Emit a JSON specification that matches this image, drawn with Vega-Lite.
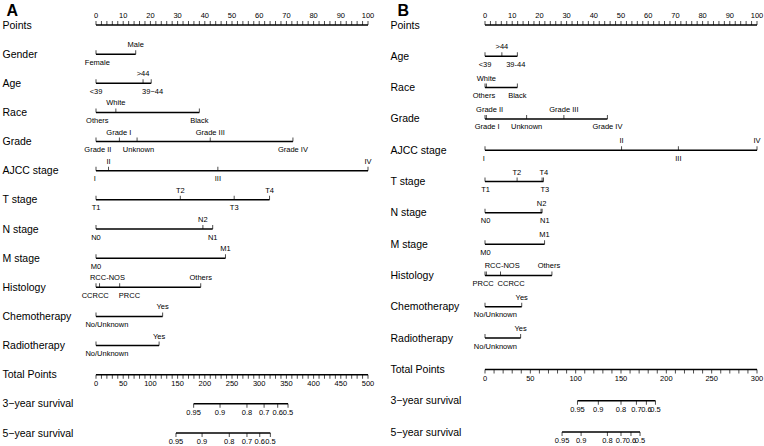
{
  "$schema": "https://vega.github.io/schema/vega-lite/v6.json",
  "padding": {"left": 2, "top": 2, "right": 0, "bottom": 0},
  "spacing": 117,
  "bounds": "flush",
  "config": {"view": {"stroke": null}, "font": "Liberation Sans", "text": {"fill": "#000"}},
  "datasets": {
    "A_pts": [
      {"var":"Points","pts":0,"lab":0,"label":"0","side":"above"},{"var":"Points","pts":2},{"var":"Points","pts":4},{"var":"Points","pts":6},{"var":"Points","pts":8},
      {"var":"Points","pts":10,"lab":10,"label":"10","side":"above"},{"var":"Points","pts":12},{"var":"Points","pts":14},{"var":"Points","pts":16},{"var":"Points","pts":18},
      {"var":"Points","pts":20,"lab":20,"label":"20","side":"above"},{"var":"Points","pts":22},{"var":"Points","pts":24},{"var":"Points","pts":26},{"var":"Points","pts":28},
      {"var":"Points","pts":30,"lab":30,"label":"30","side":"above"},{"var":"Points","pts":32},{"var":"Points","pts":34},{"var":"Points","pts":36},{"var":"Points","pts":38},
      {"var":"Points","pts":40,"lab":40,"label":"40","side":"above"},{"var":"Points","pts":42},{"var":"Points","pts":44},{"var":"Points","pts":46},{"var":"Points","pts":48},
      {"var":"Points","pts":50,"lab":50,"label":"50","side":"above"},{"var":"Points","pts":52},{"var":"Points","pts":54},{"var":"Points","pts":56},{"var":"Points","pts":58},
      {"var":"Points","pts":60,"lab":60,"label":"60","side":"above"},{"var":"Points","pts":62},{"var":"Points","pts":64},{"var":"Points","pts":66},{"var":"Points","pts":68},
      {"var":"Points","pts":70,"lab":70,"label":"70","side":"above"},{"var":"Points","pts":72},{"var":"Points","pts":74},{"var":"Points","pts":76},{"var":"Points","pts":78},
      {"var":"Points","pts":80,"lab":80,"label":"80","side":"above"},{"var":"Points","pts":82},{"var":"Points","pts":84},{"var":"Points","pts":86},{"var":"Points","pts":88},
      {"var":"Points","pts":90,"lab":90,"label":"90","side":"above"},{"var":"Points","pts":92},{"var":"Points","pts":94},{"var":"Points","pts":96},{"var":"Points","pts":98},
      {"var":"Points","pts":100,"lab":100,"label":"100","side":"above"},
      {"var":"Gender","label":"Female","pts":0,"lab":0.5,"side":"below"},
      {"var":"Gender","label":"Male","pts":14.6,"lab":14.6,"side":"above"},
      {"var":"Age","label":"<39","pts":0,"lab":0,"side":"below"},
      {"var":"Age","label":">44","pts":17.3,"lab":17.3,"side":"above"},
      {"var":"Age","label":"39−44","pts":20.3,"lab":20.8,"side":"below"},
      {"var":"Race","label":"Others","pts":0,"lab":0.5,"side":"below"},
      {"var":"Race","label":"White","pts":7.3,"lab":7.3,"side":"above"},
      {"var":"Race","label":"Black","pts":38,"lab":38,"side":"below"},
      {"var":"Grade","label":"Grade II","pts":0,"lab":0.7,"side":"below"},
      {"var":"Grade","label":"Grade I","pts":8.6,"lab":8.4,"side":"above"},
      {"var":"Grade","label":"Unknown","pts":15.1,"lab":15.6,"side":"below"},
      {"var":"Grade","label":"Grade III","pts":42,"lab":42,"side":"above"},
      {"var":"Grade","label":"Grade IV","pts":72.4,"lab":72.4,"side":"below"},
      {"var":"AJCC stage","label":"I","pts":0,"lab":-0.4,"side":"below"},
      {"var":"AJCC stage","label":"II","pts":4.6,"lab":4.6,"side":"above"},
      {"var":"AJCC stage","label":"III","pts":44.8,"lab":44.8,"side":"below"},
      {"var":"AJCC stage","label":"IV","pts":100,"lab":100,"side":"above"},
      {"var":"T stage","label":"T1","pts":0,"lab":0,"side":"below"},
      {"var":"T stage","label":"T2","pts":31,"lab":31,"side":"above"},
      {"var":"T stage","label":"T3","pts":50.8,"lab":50.8,"side":"below"},
      {"var":"T stage","label":"T4","pts":63.8,"lab":63.8,"side":"above"},
      {"var":"N stage","label":"N0","pts":0,"lab":0,"side":"below"},
      {"var":"N stage","label":"N2","pts":39.3,"lab":39.3,"side":"above"},
      {"var":"N stage","label":"N1","pts":42.9,"lab":42.9,"side":"below"},
      {"var":"M stage","label":"M0","pts":0,"lab":0,"side":"below"},
      {"var":"M stage","label":"M1","pts":47.6,"lab":47.6,"side":"above"},
      {"var":"Histology","label":"CCRCC","pts":0,"lab":-0.3,"side":"below"},
      {"var":"Histology","label":"RCC-NOS","pts":1.3,"lab":4.2,"side":"above"},
      {"var":"Histology","label":"PRCC","pts":8.7,"lab":12.3,"side":"below"},
      {"var":"Histology","label":"Others","pts":38.5,"lab":38.5,"side":"above"},
      {"var":"Chemotherapy","label":"No/Unknown","pts":0,"lab":4,"side":"below"},
      {"var":"Chemotherapy","label":"Yes","pts":24.5,"lab":24.5,"side":"above"},
      {"var":"Radiotherapy","label":"No/Unknown","pts":0,"lab":4,"side":"below"},
      {"var":"Radiotherapy","label":"Yes","pts":23.2,"lab":23.2,"side":"above"}
    ],
    "A_tot": [
      {"var":"Total Points","tp":0,"label":"0","side":"below"},{"var":"Total Points","tp":10},{"var":"Total Points","tp":20},{"var":"Total Points","tp":30},{"var":"Total Points","tp":40},
      {"var":"Total Points","tp":50,"label":"50","side":"below"},{"var":"Total Points","tp":60},{"var":"Total Points","tp":70},{"var":"Total Points","tp":80},{"var":"Total Points","tp":90},
      {"var":"Total Points","tp":100,"label":"100","side":"below"},{"var":"Total Points","tp":110},{"var":"Total Points","tp":120},{"var":"Total Points","tp":130},{"var":"Total Points","tp":140},
      {"var":"Total Points","tp":150,"label":"150","side":"below"},{"var":"Total Points","tp":160},{"var":"Total Points","tp":170},{"var":"Total Points","tp":180},{"var":"Total Points","tp":190},
      {"var":"Total Points","tp":200,"label":"200","side":"below"},{"var":"Total Points","tp":210},{"var":"Total Points","tp":220},{"var":"Total Points","tp":230},{"var":"Total Points","tp":240},
      {"var":"Total Points","tp":250,"label":"250","side":"below"},{"var":"Total Points","tp":260},{"var":"Total Points","tp":270},{"var":"Total Points","tp":280},{"var":"Total Points","tp":290},
      {"var":"Total Points","tp":300,"label":"300","side":"below"},{"var":"Total Points","tp":310},{"var":"Total Points","tp":320},{"var":"Total Points","tp":330},{"var":"Total Points","tp":340},
      {"var":"Total Points","tp":350,"label":"350","side":"below"},{"var":"Total Points","tp":360},{"var":"Total Points","tp":370},{"var":"Total Points","tp":380},{"var":"Total Points","tp":390},
      {"var":"Total Points","tp":400,"label":"400","side":"below"},{"var":"Total Points","tp":410},{"var":"Total Points","tp":420},{"var":"Total Points","tp":430},{"var":"Total Points","tp":440},
      {"var":"Total Points","tp":450,"label":"450","side":"below"},{"var":"Total Points","tp":460},{"var":"Total Points","tp":470},{"var":"Total Points","tp":480},{"var":"Total Points","tp":490},
      {"var":"Total Points","tp":500,"label":"500","side":"below"},
      {"var":"3−year survival","tp":179.5,"label":"0.95","side":"surv"},
      {"var":"3−year survival","tp":228,"label":"0.9","side":"surv"},
      {"var":"3−year survival","tp":277.5,"label":"0.8","side":"surv"},
      {"var":"3−year survival","tp":309,"label":"0.7","side":"surv"},
      {"var":"3−year survival","tp":334,"label":"0.6","side":"surv"},
      {"var":"3−year survival","tp":353,"label":"0.5","side":"surv"},
      {"var":"5−year survival","tp":147,"label":"0.95","side":"surv"},
      {"var":"5−year survival","tp":195,"label":"0.9","side":"surv"},
      {"var":"5−year survival","tp":245,"label":"0.8","side":"surv"},
      {"var":"5−year survival","tp":277.5,"label":"0.7","side":"surv"},
      {"var":"5−year survival","tp":301,"label":"0.6","side":"surv"},
      {"var":"5−year survival","tp":320.5,"label":"0.5","side":"surv"}
    ],
    "B_pts": [
      {"var":"Points","pts":0,"lab":0,"label":"0","side":"above"},{"var":"Points","pts":2},{"var":"Points","pts":4},{"var":"Points","pts":6},{"var":"Points","pts":8},
      {"var":"Points","pts":10,"lab":10,"label":"10","side":"above"},{"var":"Points","pts":12},{"var":"Points","pts":14},{"var":"Points","pts":16},{"var":"Points","pts":18},
      {"var":"Points","pts":20,"lab":20,"label":"20","side":"above"},{"var":"Points","pts":22},{"var":"Points","pts":24},{"var":"Points","pts":26},{"var":"Points","pts":28},
      {"var":"Points","pts":30,"lab":30,"label":"30","side":"above"},{"var":"Points","pts":32},{"var":"Points","pts":34},{"var":"Points","pts":36},{"var":"Points","pts":38},
      {"var":"Points","pts":40,"lab":40,"label":"40","side":"above"},{"var":"Points","pts":42},{"var":"Points","pts":44},{"var":"Points","pts":46},{"var":"Points","pts":48},
      {"var":"Points","pts":50,"lab":50,"label":"50","side":"above"},{"var":"Points","pts":52},{"var":"Points","pts":54},{"var":"Points","pts":56},{"var":"Points","pts":58},
      {"var":"Points","pts":60,"lab":60,"label":"60","side":"above"},{"var":"Points","pts":62},{"var":"Points","pts":64},{"var":"Points","pts":66},{"var":"Points","pts":68},
      {"var":"Points","pts":70,"lab":70,"label":"70","side":"above"},{"var":"Points","pts":72},{"var":"Points","pts":74},{"var":"Points","pts":76},{"var":"Points","pts":78},
      {"var":"Points","pts":80,"lab":80,"label":"80","side":"above"},{"var":"Points","pts":82},{"var":"Points","pts":84},{"var":"Points","pts":86},{"var":"Points","pts":88},
      {"var":"Points","pts":90,"lab":90,"label":"90","side":"above"},{"var":"Points","pts":92},{"var":"Points","pts":94},{"var":"Points","pts":96},{"var":"Points","pts":98},
      {"var":"Points","pts":100,"lab":100,"label":"100","side":"above"},
      {"var":"Age","label":"<39","pts":0,"lab":0,"side":"below"},
      {"var":"Age","label":">44","pts":6.2,"lab":6.2,"side":"above"},
      {"var":"Age","label":"39-44","pts":11.9,"lab":11.3,"side":"below"},
      {"var":"Race","label":"Others","pts":0,"lab":-0.4,"side":"below"},
      {"var":"Race","label":"White","pts":0.5,"lab":0.5,"side":"above"},
      {"var":"Race","label":"Black","pts":11.9,"lab":11.9,"side":"below"},
      {"var":"Grade","label":"Grade I","pts":0,"lab":0.8,"side":"below"},
      {"var":"Grade","label":"Grade II","pts":0.5,"lab":1.7,"side":"above"},
      {"var":"Grade","label":"Unknown","pts":15.3,"lab":15.3,"side":"below"},
      {"var":"Grade","label":"Grade III","pts":29,"lab":29,"side":"above"},
      {"var":"Grade","label":"Grade IV","pts":45,"lab":45,"side":"below"},
      {"var":"AJCC stage","label":"I","pts":0,"lab":-0.4,"side":"below"},
      {"var":"AJCC stage","label":"II","pts":50.2,"lab":50.2,"side":"above"},
      {"var":"AJCC stage","label":"III","pts":71.1,"lab":71.1,"side":"below"},
      {"var":"AJCC stage","label":"IV","pts":100,"lab":100,"side":"above"},
      {"var":"T stage","label":"T1","pts":0,"lab":0.2,"side":"below"},
      {"var":"T stage","label":"T2","pts":11.8,"lab":11.7,"side":"above"},
      {"var":"T stage","label":"T3","pts":21,"lab":22,"side":"below"},
      {"var":"T stage","label":"T4","pts":21.5,"lab":21.6,"side":"above"},
      {"var":"N stage","label":"N0","pts":0,"lab":0.2,"side":"below"},
      {"var":"N stage","label":"N2","pts":20.6,"lab":20.8,"side":"above"},
      {"var":"N stage","label":"N1","pts":21,"lab":22,"side":"below"},
      {"var":"M stage","label":"M0","pts":0,"lab":0.2,"side":"below"},
      {"var":"M stage","label":"M1","pts":21.9,"lab":21.9,"side":"above"},
      {"var":"Histology","label":"PRCC","pts":0,"lab":-0.7,"side":"below"},
      {"var":"Histology","label":"RCC-NOS","pts":0.5,"lab":6.3,"side":"above"},
      {"var":"Histology","label":"CCRCC","pts":5.7,"lab":9.6,"side":"below"},
      {"var":"Histology","label":"Others","pts":24.6,"lab":23.5,"side":"above"},
      {"var":"Chemotherapy","label":"No/Unknown","pts":0,"lab":3.8,"side":"below"},
      {"var":"Chemotherapy","label":"Yes","pts":13.5,"lab":13.5,"side":"above"},
      {"var":"Radiotherapy","label":"No/Unknown","pts":0,"lab":3.8,"side":"below"},
      {"var":"Radiotherapy","label":"Yes","pts":13.1,"lab":13.1,"side":"above"}
    ],
    "B_tot": [
      {"var":"Total Points","tp":0,"label":"0","side":"below"},{"var":"Total Points","tp":10},{"var":"Total Points","tp":20},{"var":"Total Points","tp":30},{"var":"Total Points","tp":40},
      {"var":"Total Points","tp":50,"label":"50","side":"below"},{"var":"Total Points","tp":60},{"var":"Total Points","tp":70},{"var":"Total Points","tp":80},{"var":"Total Points","tp":90},
      {"var":"Total Points","tp":100,"label":"100","side":"below"},{"var":"Total Points","tp":110},{"var":"Total Points","tp":120},{"var":"Total Points","tp":130},{"var":"Total Points","tp":140},
      {"var":"Total Points","tp":150,"label":"150","side":"below"},{"var":"Total Points","tp":160},{"var":"Total Points","tp":170},{"var":"Total Points","tp":180},{"var":"Total Points","tp":190},
      {"var":"Total Points","tp":200,"label":"200","side":"below"},{"var":"Total Points","tp":210},{"var":"Total Points","tp":220},{"var":"Total Points","tp":230},{"var":"Total Points","tp":240},
      {"var":"Total Points","tp":250,"label":"250","side":"below"},{"var":"Total Points","tp":260},{"var":"Total Points","tp":270},{"var":"Total Points","tp":280},{"var":"Total Points","tp":290},
      {"var":"Total Points","tp":300,"label":"300","side":"below"},
      {"var":"3−year survival","tp":102,"label":"0.95","side":"surv"},
      {"var":"3−year survival","tp":125,"label":"0.9","side":"surv"},
      {"var":"3−year survival","tp":150,"label":"0.8","side":"surv"},
      {"var":"3−year survival","tp":167,"label":"0.7","side":"surv"},
      {"var":"3−year survival","tp":178,"label":"0.6","side":"surv"},
      {"var":"3−year survival","tp":188,"label":"0.5","side":"surv"},
      {"var":"5−year survival","tp":85,"label":"0.95","side":"surv"},
      {"var":"5−year survival","tp":106,"label":"0.9","side":"surv"},
      {"var":"5−year survival","tp":135,"label":"0.8","side":"surv"},
      {"var":"5−year survival","tp":150,"label":"0.7","side":"surv"},
      {"var":"5−year survival","tp":161,"label":"0.6","side":"surv"},
      {"var":"5−year survival","tp":171,"label":"0.5","side":"surv"}
    ]
  },
  "hconcat": [
    {
      "width": 272,
      "height": 408,
      "encoding": {
        "y": {
          "field": "var", "type": "nominal",
          "scale": {"type": "point", "padding": 0, "domain": ["Points","Gender","Age","Race","Grade","AJCC stage","T stage","N stage","M stage","Histology","Chemotherapy","Radiotherapy","Total Points","3−year survival","5−year survival"]},
          "axis": {"title": "A", "titleAngle": 0, "titleAlign": "left", "titleBaseline": "alphabetic", "titleX": -90, "titleY": -10, "titleFontSize": 16, "titleFontWeight": "bold", "titleColor": "black", "titleFont": "Liberation Sans",
                   "labelAlign": "left", "labelBaseline": "middle", "labelPadding": 94, "labelFontSize": 10.5, "labelColor": "black", "labelLimit": 200, "labelFont": "Liberation Sans",
                   "ticks": false, "domain": false, "grid": false}
        }
      },
      "layer": [
        {
          "data": {"name": "A_pts"},
          "encoding": {"x": {"field": "pts", "type": "quantitative", "scale": {"domain": [0, 100], "nice": false}, "axis": null}},
          "layer": [
            {"mark": {"type": "rule", "color": "black", "strokeWidth": 1.5},
             "encoding": {"x": {"aggregate": "min", "field": "pts", "type": "quantitative", "scale": {"domain": [0, 100], "nice": false}, "axis": null}, "x2": {"aggregate": "max", "field": "pts"}}},
            {"mark": {"type": "tick", "color": "black", "size": 4, "thickness": 1, "yOffset": -2}},
            {"transform": [{"filter": {"field": "side", "equal": "above"}}],
             "mark": {"type": "text", "baseline": "alphabetic", "dy": -7, "fontSize": 7.5, "fill": "#000"},
             "encoding": {"x": {"field": "lab", "type": "quantitative", "scale": {"domain": [0, 100], "nice": false}, "axis": null}, "text": {"field": "label"}}},
            {"transform": [{"filter": {"field": "side", "equal": "below"}}],
             "mark": {"type": "text", "baseline": "top", "dy": 4.5, "fontSize": 7.5, "fill": "#000"},
             "encoding": {"x": {"field": "lab", "type": "quantitative", "scale": {"domain": [0, 100], "nice": false}, "axis": null}, "text": {"field": "label"}}}
          ]
        },
        {
          "data": {"name": "A_tot"},
          "encoding": {"x": {"field": "tp", "type": "quantitative", "scale": {"domain": [0, 500], "nice": false}, "axis": null}},
          "layer": [
            {"mark": {"type": "rule", "color": "black", "strokeWidth": 1.5},
             "encoding": {"x": {"aggregate": "min", "field": "tp", "type": "quantitative", "scale": {"domain": [0, 500], "nice": false}, "axis": null}, "x2": {"aggregate": "max", "field": "tp"}}},
            {"mark": {"type": "tick", "color": "black", "size": 4, "thickness": 1, "yOffset": 2}},
            {"transform": [{"filter": {"field": "side", "equal": "below"}}],
             "mark": {"type": "text", "baseline": "top", "dy": 5.5, "fontSize": 7.5, "fill": "#000"},
             "encoding": {"text": {"field": "label"}}},
            {"transform": [{"filter": {"field": "side", "equal": "surv"}}],
             "mark": {"type": "text", "baseline": "top", "dy": 5, "fontSize": 7.5, "fill": "#000"},
             "encoding": {"text": {"field": "label"}}}
          ]
        }
      ],
      "resolve": {"scale": {"x": "independent"}}
    },
    {
      "width": 272,
      "height": 407,
      "encoding": {
        "y": {
          "field": "var", "type": "nominal",
          "scale": {"type": "point", "padding": 0, "domain": ["Points","Age","Race","Grade","AJCC stage","T stage","N stage","M stage","Histology","Chemotherapy","Radiotherapy","Total Points","3−year survival","5−year survival"]},
          "axis": {"title": "B", "titleAngle": 0, "titleAlign": "left", "titleBaseline": "alphabetic", "titleX": -88, "titleY": -10, "titleFontSize": 16, "titleFontWeight": "bold", "titleColor": "black", "titleFont": "Liberation Sans",
                   "labelAlign": "left", "labelBaseline": "middle", "labelPadding": 95, "labelFontSize": 10.5, "labelColor": "black", "labelLimit": 200, "labelFont": "Liberation Sans",
                   "ticks": false, "domain": false, "grid": false}
        }
      },
      "layer": [
        {
          "data": {"name": "B_pts"},
          "encoding": {"x": {"field": "pts", "type": "quantitative", "scale": {"domain": [0, 100], "nice": false}, "axis": null}},
          "layer": [
            {"mark": {"type": "rule", "color": "black", "strokeWidth": 1.5},
             "encoding": {"x": {"aggregate": "min", "field": "pts", "type": "quantitative", "scale": {"domain": [0, 100], "nice": false}, "axis": null}, "x2": {"aggregate": "max", "field": "pts"}}},
            {"mark": {"type": "tick", "color": "black", "size": 4, "thickness": 1, "yOffset": -2}},
            {"transform": [{"filter": {"field": "side", "equal": "above"}}],
             "mark": {"type": "text", "baseline": "alphabetic", "dy": -7, "fontSize": 7.5, "fill": "#000"},
             "encoding": {"x": {"field": "lab", "type": "quantitative", "scale": {"domain": [0, 100], "nice": false}, "axis": null}, "text": {"field": "label"}}},
            {"transform": [{"filter": {"field": "side", "equal": "below"}}],
             "mark": {"type": "text", "baseline": "top", "dy": 4.5, "fontSize": 7.5, "fill": "#000"},
             "encoding": {"x": {"field": "lab", "type": "quantitative", "scale": {"domain": [0, 100], "nice": false}, "axis": null}, "text": {"field": "label"}}}
          ]
        },
        {
          "data": {"name": "B_tot"},
          "encoding": {"x": {"field": "tp", "type": "quantitative", "scale": {"domain": [0, 300], "nice": false}, "axis": null}},
          "layer": [
            {"mark": {"type": "rule", "color": "black", "strokeWidth": 1.5},
             "encoding": {"x": {"aggregate": "min", "field": "tp", "type": "quantitative", "scale": {"domain": [0, 300], "nice": false}, "axis": null}, "x2": {"aggregate": "max", "field": "tp"}}},
            {"mark": {"type": "tick", "color": "black", "size": 4, "thickness": 1, "yOffset": 2}},
            {"transform": [{"filter": {"field": "side", "equal": "below"}}],
             "mark": {"type": "text", "baseline": "top", "dy": 5.5, "fontSize": 7.5, "fill": "#000"},
             "encoding": {"text": {"field": "label"}}},
            {"transform": [{"filter": {"field": "side", "equal": "surv"}}],
             "mark": {"type": "text", "baseline": "top", "dy": 5, "fontSize": 7.5, "fill": "#000"},
             "encoding": {"text": {"field": "label"}}}
          ]
        }
      ],
      "resolve": {"scale": {"x": "independent"}}
    }
  ]
}
